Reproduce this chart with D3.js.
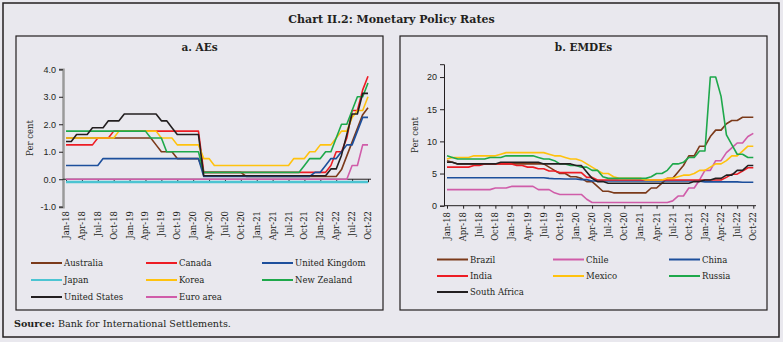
<!DOCTYPE html>
<html>
<head>
<meta charset="utf-8">
<script src="https://cdn.jsdelivr.net/npm/d3@7"></script>
<style>
  body { margin: 0; background: #e9e8ee; }
  svg { display: block; font-family: 'DejaVu Serif', serif; }
  .tick text { font-size: 8.5px; fill: #231f20; }
  .tick line { stroke: #231f20; }
</style>
</head>
<body>
<div class="page"></div>
<script>
// monthly data, Jan-18 .. Oct-22 (58 points)
var tickLabels = ['Jan-18','Apr-18','Jul-18','Oct-18','Jan-19','Apr-19','Jul-19','Oct-19','Jan-20','Apr-20',
  'Jul-20','Oct-20','Jan-21','Apr-21','Jul-21','Oct-21','Jan-22','Apr-22','Jul-22','Oct-22'];
var tickIndex = [0,3,6,9,12,15,18,21,24,27,30,33,36,39,42,45,48,51,54,57];

var aeNames = ['Australia','Canada','United Kingdom','Japan','Korea','New Zealand','United States','Euro area'];
var emNames = ['Brazil','Chile','China','India','Mexico','Russia','South Africa'];
var aeColors = ['#7b3a1a','#ed1c24','#1d4f9c','#4cc4d2','#ffc20e','#1ea84b','#231f20','#d05ca9'];
var emColors = ['#7b3a1a','#d05ca9','#1d4f9c','#ed1c24','#ffc20e','#1ea84b','#231f20'];

var australia = [1.5,1.5,1.5,1.5,1.5,1.5,1.5,1.5,1.5,1.5,1.5,1.5,
  1.5,1.5,1.5,1.5,1.5,1.25,1.0,1.0,1.0,0.75,0.75,0.75,
  0.75,0.75,0.25,0.25,0.25,0.25,0.25,0.25,0.25,0.25,0.1,0.1,
  0.1,0.1,0.1,0.1,0.1,0.1,0.1,0.1,0.1,0.1,0.1,0.1,
  0.1,0.1,0.1,0.1,0.35,0.85,1.35,1.85,2.35,2.6];
var canada = [1.25,1.25,1.25,1.25,1.25,1.25,1.5,1.5,1.5,1.75,1.75,1.75,
  1.75,1.75,1.75,1.75,1.75,1.75,1.75,1.75,1.75,1.75,1.75,1.75,
  1.75,1.75,0.25,0.25,0.25,0.25,0.25,0.25,0.25,0.25,0.25,0.25,
  0.25,0.25,0.25,0.25,0.25,0.25,0.25,0.25,0.25,0.25,0.25,0.25,
  0.25,0.25,0.5,1.0,1.0,1.5,2.5,2.5,3.25,3.75];
var uk = [0.5,0.5,0.5,0.5,0.5,0.5,0.5,0.75,0.75,0.75,0.75,0.75,
  0.75,0.75,0.75,0.75,0.75,0.75,0.75,0.75,0.75,0.75,0.75,0.75,
  0.75,0.75,0.1,0.1,0.1,0.1,0.1,0.1,0.1,0.1,0.1,0.1,
  0.1,0.1,0.1,0.1,0.1,0.1,0.1,0.1,0.1,0.1,0.1,0.25,
  0.25,0.5,0.75,0.75,1.0,1.25,1.25,1.75,2.25,2.25];
var japan = [-0.1,-0.1,-0.1,-0.1,-0.1,-0.1,-0.1,-0.1,-0.1,-0.1,-0.1,-0.1,
  -0.1,-0.1,-0.1,-0.1,-0.1,-0.1,-0.1,-0.1,-0.1,-0.1,-0.1,-0.1,
  -0.1,-0.1,-0.1,-0.1,-0.1,-0.1,-0.1,-0.1,-0.1,-0.1,-0.1,-0.1,
  -0.1,-0.1,-0.1,-0.1,-0.1,-0.1,-0.1,-0.1,-0.1,-0.1,-0.1,-0.1,
  -0.1,-0.1,-0.1,-0.1,-0.1,-0.1,-0.1,-0.1,-0.1,-0.1];
var korea = [1.5,1.5,1.5,1.5,1.5,1.5,1.5,1.5,1.5,1.5,1.75,1.75,
  1.75,1.75,1.75,1.75,1.75,1.75,1.5,1.5,1.5,1.25,1.25,1.25,
  1.25,1.25,0.75,0.75,0.5,0.5,0.5,0.5,0.5,0.5,0.5,0.5,
  0.5,0.5,0.5,0.5,0.5,0.5,0.5,0.75,0.75,0.75,1.0,1.0,
  1.25,1.25,1.25,1.5,1.75,1.75,2.25,2.5,2.5,3.0];
var newZealand = [1.75,1.75,1.75,1.75,1.75,1.75,1.75,1.75,1.75,1.75,1.75,1.75,
  1.75,1.75,1.75,1.75,1.5,1.5,1.5,1.0,1.0,1.0,1.0,1.0,
  1.0,1.0,0.25,0.25,0.25,0.25,0.25,0.25,0.25,0.25,0.25,0.25,
  0.25,0.25,0.25,0.25,0.25,0.25,0.25,0.25,0.25,0.5,0.75,0.75,
  0.75,1.0,1.0,1.5,2.0,2.0,2.5,3.0,3.0,3.5];
var us = [1.375,1.375,1.625,1.625,1.625,1.875,1.875,1.875,2.125,2.125,2.125,2.375,
  2.375,2.375,2.375,2.375,2.375,2.375,2.125,2.125,1.875,1.625,1.625,1.625,
  1.625,1.625,0.125,0.125,0.125,0.125,0.125,0.125,0.125,0.125,0.125,0.125,
  0.125,0.125,0.125,0.125,0.125,0.125,0.125,0.125,0.125,0.125,0.125,0.125,
  0.125,0.125,0.375,0.375,0.875,1.625,2.375,2.375,3.125,3.125];
var euroArea = [0,0,0,0,0,0,0,0,0,0,0,0,
  0,0,0,0,0,0,0,0,0,0,0,0,
  0,0,0,0,0,0,0,0,0,0,0,0,
  0,0,0,0,0,0,0,0,0,0,0,0,
  0,0,0,0,0,0,0.5,0.5,1.25,1.25];

var brazil = [7.0,6.75,6.5,6.5,6.5,6.5,6.5,6.5,6.5,6.5,6.5,6.5,
  6.5,6.5,6.5,6.5,6.5,6.5,6.5,6.0,5.5,5.0,5.0,4.5,
  4.5,4.25,3.75,3.75,3.0,2.25,2.25,2.0,2.0,2.0,2.0,2.0,
  2.0,2.0,2.75,2.75,3.5,4.25,4.25,5.25,6.25,7.75,7.75,9.25,
  9.25,10.75,11.75,11.75,12.75,13.25,13.25,13.75,13.75,13.75];
var chile = [2.5,2.5,2.5,2.5,2.5,2.5,2.5,2.5,2.5,2.75,2.75,2.75,
  3.0,3.0,3.0,3.0,3.0,2.5,2.5,2.5,2.0,1.75,1.75,1.75,
  1.75,1.75,1.0,0.5,0.5,0.5,0.5,0.5,0.5,0.5,0.5,0.5,
  0.5,0.5,0.5,0.5,0.5,0.5,0.75,1.5,1.5,2.75,2.75,4.0,
  5.5,5.5,7.0,7.0,8.25,9.0,9.75,9.75,10.75,11.25];
var china = [4.35,4.35,4.35,4.35,4.35,4.35,4.35,4.35,4.35,4.35,4.35,4.35,
  4.35,4.35,4.35,4.35,4.35,4.35,4.35,4.25,4.2,4.2,4.15,4.15,
  4.15,4.05,4.05,3.85,3.85,3.85,3.85,3.85,3.85,3.85,3.85,3.85,
  3.85,3.85,3.85,3.85,3.85,3.85,3.85,3.85,3.85,3.85,3.85,3.8,
  3.7,3.7,3.7,3.7,3.7,3.7,3.7,3.65,3.65,3.65];
var india = [6.0,6.0,6.0,6.0,6.0,6.25,6.25,6.5,6.5,6.5,6.5,6.5,
  6.5,6.25,6.25,6.0,6.0,5.75,5.75,5.4,5.4,5.15,5.15,5.15,
  5.15,5.15,4.4,4.4,4.0,4.0,4.0,4.0,4.0,4.0,4.0,4.0,
  4.0,4.0,4.0,4.0,4.0,4.0,4.0,4.0,4.0,4.0,4.0,4.0,
  4.0,4.0,4.0,4.0,4.4,4.9,4.9,5.4,5.9,5.9];
var mexico = [7.25,7.5,7.5,7.5,7.5,7.75,7.75,7.75,7.75,7.75,8.0,8.25,
  8.25,8.25,8.25,8.25,8.25,8.25,8.25,8.0,7.75,7.75,7.5,7.25,
  7.25,7.0,6.5,6.0,5.5,5.0,5.0,4.5,4.25,4.25,4.25,4.25,
  4.25,4.0,4.0,4.0,4.0,4.25,4.25,4.5,4.75,4.75,5.0,5.5,
  5.5,6.0,6.5,6.5,7.0,7.75,7.75,8.5,9.25,9.25];
var russia = [7.75,7.5,7.25,7.25,7.25,7.25,7.25,7.25,7.5,7.5,7.5,7.75,
  7.75,7.75,7.75,7.75,7.75,7.5,7.25,7.25,7.0,6.5,6.5,6.25,
  6.25,6.0,6.0,5.5,5.5,4.5,4.25,4.25,4.25,4.25,4.25,4.25,
  4.25,4.25,4.5,5.0,5.0,5.5,6.5,6.5,6.75,7.5,7.5,8.5,
  8.5,20.0,20.0,17.0,11.0,9.5,8.0,8.0,7.5,7.5];
var southAfrica = [6.75,6.75,6.5,6.5,6.5,6.5,6.5,6.5,6.5,6.5,6.75,6.75,
  6.75,6.75,6.75,6.75,6.75,6.75,6.5,6.5,6.5,6.5,6.5,6.5,
  6.25,6.25,5.25,4.25,3.75,3.75,3.5,3.5,3.5,3.5,3.5,3.5,
  3.5,3.5,3.5,3.5,3.5,3.5,3.5,3.5,3.5,3.5,3.75,3.75,
  4.0,4.0,4.25,4.25,4.75,4.75,5.5,5.5,6.25,6.25];

var aeSeries = [australia, canada, uk, japan, korea, newZealand, us, euroArea];
var emSeries = [brazil, chile, china, india, mexico, russia, southAfrica];

var W = 783, H = 342, ink = '#231f20';

var svg = d3.select('.page').append('svg')
  .attr('width', W)
  .attr('height', H);

svg.append('rect')
  .attr('x', 3).attr('y', 3).attr('width', 776).attr('height', 334)
  .attr('fill', '#e9e8ee').attr('stroke', ink).attr('stroke-width', 1.5);

svg.append('text')
  .text('Chart II.2: Monetary Policy Rates')
  .attr('x', W/2).attr('y', 23)
  .attr('text-anchor', 'middle')
  .style('font-size', '11px').style('font-weight', 'bold').attr('fill', ink);

var src = svg.append('text').attr('x', 14).attr('y', 327)
  .style('font-size', '9.6px').attr('fill', ink);
src.append('tspan').text('Source:').style('font-weight', 'bold');
src.append('tspan').text(' Bank for International Settlements.');

function panel(cfg) {
  var g = svg.append('g');

  g.append('rect')
    .attr('x', cfg.box[0]).attr('y', cfg.box[1]).attr('width', cfg.box[2]).attr('height', cfg.box[3])
    .attr('fill', 'none').attr('stroke', ink).attr('stroke-width', 1.2);

  g.append('text')
    .text(cfg.title)
    .attr('x', cfg.box[0] + cfg.box[2]/2).attr('y', 51)
    .attr('text-anchor', 'middle')
    .style('font-size', '10.5px').style('font-weight', 'bold').attr('fill', ink);

  var x = d3.scaleLinear().domain([0, 57]).range(cfg.xRange);
  var y = d3.scaleLinear().domain(cfg.yDomain).range(cfg.yRange);

  // y axis
  var yAxis = d3.axisLeft(y).tickValues(cfg.yTicks).tickSize(4).tickPadding(3)
    .tickFormat(cfg.yFormat);
  var ya = g.append('g')
    .attr('transform', 'translate(' + cfg.yAxisX + ',0)')
    .call(yAxis);
  ya.select('.domain').attr('stroke', cfg.yAxisColor).attr('stroke-width', cfg.yAxisWidth);
  ya.selectAll('.tick text').style('font-size', '9px');

  g.append('text')
    .text('Per cent')
    .attr('transform', 'translate(' + cfg.perCentX + ',' + cfg.perCentY + ') rotate(-90)')
    .attr('text-anchor', 'middle')
    .style('font-size', '8.5px').attr('fill', ink);

  // x axis line + ticks
  var xAxis = d3.axisBottom(x).tickValues(tickIndex).tickSize(3).tickFormat('');
  var xa = g.append('g')
    .attr('transform', 'translate(0,' + y(cfg.xAxisAt) + ')')
    .call(xAxis);
  xa.select('.domain').remove();
  xa.append('line')
    .attr('x1', cfg.yAxisX).attr('x2', cfg.xAxisEnd)
    .attr('stroke', ink).attr('stroke-width', 1);

  // rotated month labels
  g.selectAll('.mlab').data(tickIndex)
    .enter().append('text')
    .attr('class', 'mlab')
    .text(function(d, i) { return tickLabels[i]; })
    .attr('transform', function(d) { return 'translate(' + (x(d) + 3) + ',' + cfg.labelTop + ') rotate(-90)'; })
    .attr('text-anchor', 'end')
    .style('font-size', '8.5px').attr('fill', ink);

  var line = d3.line()
    .x(function(d, i) { return x(i); })
    .y(function(d) { return y(d); });

  g.selectAll('.series').data(cfg.series)
    .enter().append('path')
    .attr('class', 'series')
    .attr('d', line)
    .attr('fill', 'none')
    .attr('stroke', function(d, i) { return cfg.colors[i]; })
    .attr('stroke-width', function(d, i) { return cfg.widths ? cfg.widths[i] : 1.6; })
    .attr('stroke-linejoin', 'round');

  // legend
  var leg = g.selectAll('.leg').data(cfg.names)
    .enter().append('g')
    .attr('class', 'leg')
    .attr('transform', function(d, i) {
      return 'translate(' + cfg.legCols[i % 3] + ',' + cfg.legRows[Math.floor(i / 3)] + ')';
    });
  leg.append('line')
    .attr('x1', 0).attr('x2', 31)
    .attr('stroke', function(d, i) { return cfg.colors[i]; })
    .attr('stroke-width', 2);
  leg.append('text')
    .text(function(d) { return d; })
    .attr('x', 33).attr('y', 3)
    .style('font-size', '8.5px').attr('fill', ink);
}

var fmt1 = function(d) { return d3.format('.1f')(d).replace('\u2212', '-'); };

panel({
  box: [16, 36, 367, 274],
  title: 'a. AEs',
  xRange: [66, 368],
  yDomain: [-1, 4], yRange: [206.7, 69.3],
  yTicks: [-1, 0, 1, 2, 3, 4], yFormat: fmt1,
  yAxisX: 63, yAxisColor: '#9a9a9a', yAxisWidth: 2.5,
  perCentX: 33, perCentY: 138,
  xAxisAt: 0, xAxisEnd: 371, labelTop: 211,
  series: aeSeries, names: aeNames, colors: aeColors,
  widths: [1.6, 1.6, 1.6, 2.4, 1.6, 1.6, 1.6, 1.6],
  legCols: [31, 146, 262], legRows: [263, 280, 297]
});

panel({
  box: [400, 36, 367, 274],
  title: 'b. EMDEs',
  xRange: [447, 753.3],
  yDomain: [0, 22], yRange: [205.7, 64.2],
  yTicks: [0, 5, 10, 15, 20], yFormat: d3.format('d'),
  yAxisX: 444, yAxisColor: ink, yAxisWidth: 1,
  perCentX: 418, perCentY: 135,
  xAxisAt: 0, xAxisEnd: 756, labelTop: 212,
  series: emSeries, names: emNames, colors: emColors,
  legCols: [437, 553, 669], legRows: [259.5, 276, 292]
});
</script>
</body>
</html>
